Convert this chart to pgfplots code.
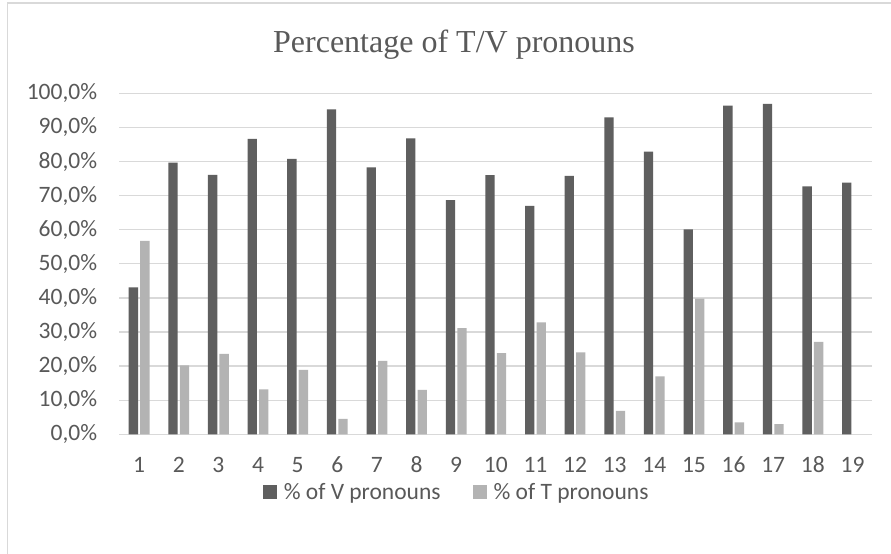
\documentclass[border=0pt]{standalone}
\usepackage{pgfplots}
\pgfplotsset{compat=1.18}
\usepackage{fontspec}
\setmainfont{Carlito}
\newfontfamily\titlefont{Liberation Serif}
\definecolor{txt}{HTML}{595959}
\definecolor{gridc}{HTML}{D9D9D9}
\definecolor{vcol}{HTML}{5F5F5F}
\definecolor{tcol}{HTML}{B3B3B3}
\begin{document}
\begin{tikzpicture}[x=1bp,y=1bp]
\path[use as bounding box] (0,0) rectangle (891,554);
\fill[white] (0,0) rectangle (891,554);
\draw[gridc, line width=1.3bp] (7.5,-5) -- (7.5,551) -- (900,551);
\node[anchor=base, text=txt, font=\titlefont\fontsize{32bp}{38bp}\selectfont] at (454,501) {Percentage of T/V pronouns};
\begin{axis}[
  at={(119.3bp,119.7bp)}, anchor=south west,
  width=753bp, height=341bp, scale only axis,
  xmin=0.5, xmax=19.5, ymin=0, ymax=100,
  ybar=2.2bp, bar width=9.3bp,
  axis line style={draw=none},
  tick style={draw=none},
  major tick length=0pt,
  ymajorgrids, grid style={gridc, line width=1.3bp},
  xtick={1,...,19},
  xticklabels={1,2,3,4,5,6,7,8,9,10,11,12,13,14,15,16,17,18,19},
  ytick={0,10,...,100},
  yticklabels={{0,0\%},{10,0\%},{20,0\%},{30,0\%},{40,0\%},{50,0\%},{60,0\%},{70,0\%},{80,0\%},{90,0\%},{100,0\%}},
  yticklabel style={anchor=east, xshift=-22bp, text=txt, font=\fontsize{23.5bp}{28bp}\selectfont, inner sep=0pt},
  xticklabel style={anchor=north, yshift=-24bp, text=txt, font=\fontsize{23.5bp}{28bp}\selectfont, inner sep=0pt, text height=14.5bp, text depth=0pt},
  legend columns=2,
  legend style={draw=none, fill=none, at={(0.448,-0.170)}, anchor=center,
    text=txt, font=\fontsize{23.5bp}{28bp}\selectfont,
    /tikz/every odd column/.append style={column sep=5bp},
    /tikz/every even column/.append style={column sep=30bp}},
  legend image code/.code={\fill[#1] (0bp,-7bp) rectangle (14bp,7bp);},
]
\addplot[fill=vcol, draw=none] coordinates {
(1,43.1) (2,79.7) (3,76.1) (4,86.6) (5,80.8) (6,95.3) (7,78.3) (8,86.8) (9,68.7) (10,76.0)
(11,67.0) (12,75.8) (13,92.9) (14,82.9) (15,60.1) (16,96.4) (17,96.9) (18,72.7) (19,73.8)};
\addlegendentry{\% of V pronouns}
\addplot[fill=tcol, draw=none] coordinates {
(1,56.7) (2,20.2) (3,23.6) (4,13.2) (5,18.9) (6,4.5) (7,21.5) (8,13.0) (9,31.1) (10,23.8)
(11,32.8) (12,24.0) (13,6.9) (14,17.0) (15,39.8) (16,3.5) (17,3.0) (18,27.1)};
\addlegendentry{\% of T pronouns}
\end{axis}
\end{tikzpicture}
\end{document}
